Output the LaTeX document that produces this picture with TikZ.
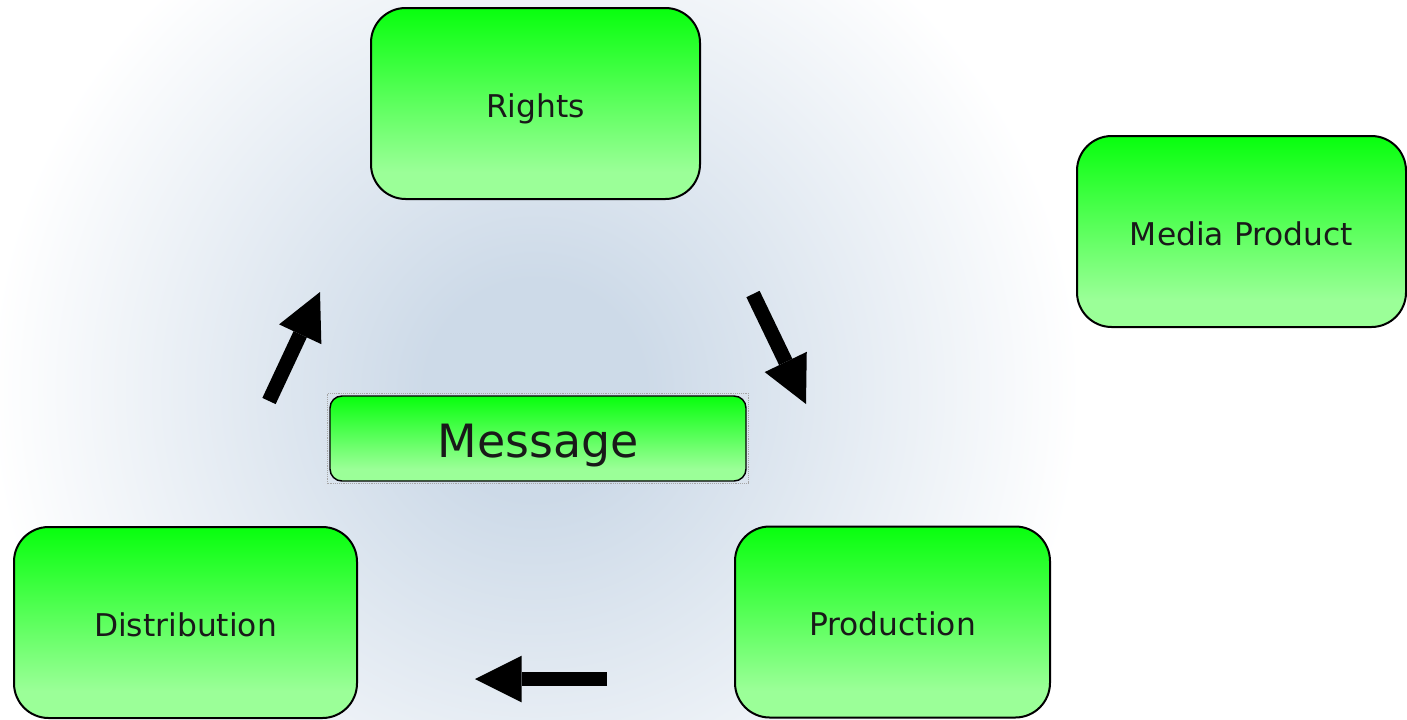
\documentclass[tikz,border=0pt]{standalone}
\usepackage{fontspec}
\setmainfont{DejaVu Sans}
\usetikzlibrary{arrows.meta}
\definecolor{lg}{RGB}{155,255,152}
\definecolor{tg}{RGB}{8,255,14}
\definecolor{bgc}{RGB}{205,218,232}
\definecolor{txt}{RGB}{25,25,25}
\pgfdeclareverticalshading{boxgrad}{100bp}{color(0bp)=(lg); color(25bp)=(lg); color(32bp)=(lg); color(75bp)=(tg); color(100bp)=(tg)}
\pgfdeclareradialshading{bgshade}{\pgfpoint{0bp}{0bp}}{color(0bp)=(bgc); color(5bp)=(bgc); color(25bp)=(white); color(50bp)=(white)}
\tikzset{
  box/.style={draw=black, line width=1.5pt, rounded corners=26pt, shading=boxgrad, shade,
    text=txt, font=\fontsize{23.5}{28}\selectfont, inner sep=0pt,
    text height=20.5pt, text depth=0pt, minimum height=143.25pt},
  msgbox/.style={draw=black, line width=1.1pt, rounded corners=9pt, shading=boxgrad, shade,
    text=txt, font=\fontsize{34.4}{40}\selectfont, inner sep=0pt,
    text height=29.2pt, text depth=0pt,
    minimum width=312pt, minimum height=63.75pt},
  blockarrow/.style={line width=11pt, -{Triangle[width=35pt,length=35pt,line width=0pt]}, black}
}
\begin{document}
\begin{tikzpicture}[x=0.75pt,y=-0.75pt]
\useasboundingbox (0,0) rectangle (1407,719);
\fill[white] (0,0) rectangle (1407,719);
\begin{scope}
\clip (0,0) rectangle (1407,719);
\shade[shading=bgshade] (535,390) circle (545);
\end{scope}

\node[box, minimum width=246.75pt] (rights) at (535.5,103.5) {Rights};
\node[box, minimum width=246.75pt] (media) at (1241.5,231.5) {Media Product};
\node[box, minimum width=257.25pt] (dist) at (185.5,622.5) {Distribution};
\node[box, minimum width=236.25pt] (prod) at (892.5,622) {Production};
\node[msgbox] (msg) at (538,438.5) {Message};
\draw[densely dotted, gray!70, line width=0.4pt] ([shift={(-2,2)}]msg.south west) rectangle ([shift={(2,-2)}]msg.north east);

\coordinate (a1s) at (269,401);
\coordinate (a1e) at (320,292);
\coordinate (a2s) at (753,294);
\coordinate (a2e) at (806,404);
\coordinate (a3s) at (607,679);
\coordinate (a3e) at (475,679);
\draw[blockarrow] (a1s) -- (a1e);
\draw[blockarrow] (a2s) -- (a2e);
\draw[blockarrow] (a3s) -- (a3e);
\end{tikzpicture}
\end{document}
